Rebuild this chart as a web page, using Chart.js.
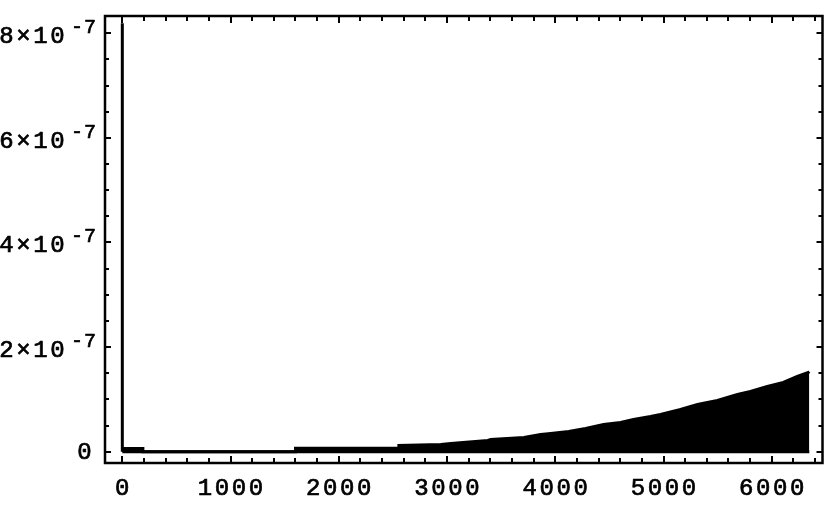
<!DOCTYPE html>
<html>
<head>
<meta charset="utf-8">
<script src="https://cdn.jsdelivr.net/npm/chart.js@4/dist/chart.umd.min.js"></script>
<style>
  html, body { margin: 0; padding: 0; background: #ffffff; }
  #wrap { width: 830px; height: 511px; }
</style>
</head>
<body>
<div id="wrap"><canvas id="c" width="830" height="511"></canvas></div>
<script>
// ---- data ----
// initial spike at n = 0
const spikeX = [0, 0];
const spikeY = [0, 8.19e-7];
// upper envelope of the rapidly oscillating series (black band)
const bandX = [0, 190, 190, 1600, 1600, 2550, 2555, 2943, 3035, 3376, 3404, 3710, 3865, 3958,
  4124, 4280, 4447, 4603, 4723, 4880, 4972, 5157, 5314, 5498, 5683, 5803, 5959, 6107, 6236, 6338, 6347];
const bandUpper = [0.061e-7, 0.061e-7, 0, 0, 0.067e-7, 0.067e-7, 0.119e-7, 0.138e-7, 0.157e-7, 0.214e-7,
  0.233e-7, 0.272e-7, 0.329e-7, 0.348e-7, 0.386e-7, 0.444e-7, 0.520e-7, 0.558e-7, 0.616e-7, 0.673e-7,
  0.711e-7, 0.807e-7, 0.902e-7, 0.979e-7, 1.094e-7, 1.151e-7, 1.247e-7, 1.323e-7, 1.438e-7, 1.515e-7, 1.53e-7];
// lower envelope (series minima sit at zero)
const lowerX = [0, 6347];
const lowerY = [0, 0];

// ---- axes ----
const xRange = [-160, 6469];
const yRange = [-0.216e-7, 8.33e-7];
const xMajorTicks = [0, 1000, 2000, 3000, 4000, 5000, 6000];
const xTickLabels = ['0', '1000', '2000', '3000', '4000', '5000', '6000'];
const xMinorStep = 200, xMinorMax = 6400;
const yMajorTicks = [0, 2e-7, 4e-7, 6e-7, 8e-7];
const yTickMantissa = ['0', '2×10', '4×10', '6×10', '8×10'];
const yTickExponent = ['', '-7', '-7', '-7', '-7'];
const yMinorStep = 0.5e-7, yMinorMax = 8e-7;

const toXY = (xs, ys) => xs.map((x, i) => ({ x: x, y: ys[i] }));

function drawSpaced(ctx, text, x, y, adv, align) {
  const n = text.length;
  let start;
  if (align === 'center') start = x - n * adv / 2;
  else if (align === 'right') start = x - n * adv;
  else start = x;
  ctx.textAlign = 'center';
  for (let i = 0; i < n; i++) {
    const cx = start + (i + 0.5) * adv;
    ctx.fillText(text[i], cx, y);
    ctx.strokeText(text[i], cx, y);
  }
}

const FONT_MAIN = '24px "Liberation Mono", "DejaVu Sans Mono", monospace';
const FONT_SUP = '20px "Liberation Mono", "DejaVu Sans Mono", monospace';

const framePlugin = {
  id: 'mmaFrame',
  afterDraw(chart) {
    const ctx = chart.ctx;
    const a = chart.chartArea;
    const xs = chart.scales.x, ys = chart.scales.y;
    ctx.save();
    ctx.strokeStyle = '#000';
    ctx.fillStyle = '#000';
    ctx.lineWidth = 2.5;
    ctx.strokeRect(a.left, a.top, a.right - a.left, a.bottom - a.top);
    // x ticks (inward, bottom and top)
    ctx.lineWidth = 2;
    ctx.beginPath();
    for (let v = 0; v <= xMinorMax + 1e-9; v += xMinorStep) {
      const px = Math.round(xs.getPixelForValue(v));
      const major = xMajorTicks.includes(v);
      const len = major ? 7 : 5;
      ctx.moveTo(px, a.bottom); ctx.lineTo(px, a.bottom - len);
      ctx.moveTo(px, a.top); ctx.lineTo(px, a.top + len);
    }
    // y ticks (inward, left and right)
    for (let k = 0; k * yMinorStep <= yMinorMax + 1e-12; k++) {
      const v = k * yMinorStep;
      const py = Math.round(ys.getPixelForValue(v));
      const major = (k % 4 === 0);
      const len = major ? 6 : 4;
      ctx.moveTo(a.left, py); ctx.lineTo(a.left + len, py);
      ctx.moveTo(a.right, py); ctx.lineTo(a.right - len, py);
    }
    ctx.stroke();

    // labels
    ctx.lineWidth = 0.7;
    ctx.lineJoin = 'round';
    ctx.font = FONT_MAIN;
    ctx.textBaseline = 'alphabetic';
    xMajorTicks.forEach((v, i) => {
      const px = xs.getPixelForValue(v);
      drawSpaced(ctx, xTickLabels[i], px, 495, 17, 'center');
    });
    yMajorTicks.forEach((v, i) => {
      const py = ys.getPixelForValue(v);
      ctx.font = FONT_MAIN;
      if (!yTickExponent[i]) {
        drawSpaced(ctx, yTickMantissa[i], 93, py + 7.5, 17, 'right');
      } else {
        drawSpaced(ctx, yTickMantissa[i], 66, py + 10, 17, 'right');
        ctx.font = FONT_SUP;
        drawSpaced(ctx, yTickExponent[i], 70.5, py, 13, 'left');
      }
    });
    ctx.restore();
  }
};

new Chart(document.getElementById('c'), {
  type: 'line',
  data: {
    datasets: [
      {
        data: toXY(spikeX, spikeY),
        borderColor: '#000', borderWidth: 3, pointRadius: 0, fill: false,
        borderCapStyle: 'butt'
      },
      {
        data: toXY(bandX, bandUpper),
        borderColor: '#000', backgroundColor: '#000', borderWidth: 3, pointRadius: 0,
        fill: 'origin', tension: 0, borderJoinStyle: 'miter'
      },
      {
        data: toXY(lowerX, lowerY),
        borderColor: '#000', borderWidth: 3, pointRadius: 0, fill: false
      }
    ]
  },
  options: {
    responsive: false,
    animation: false,
    devicePixelRatio: 1,
    parsing: true,
    layout: { padding: { left: 105, top: 16, right: 7.5, bottom: 48 } },
    plugins: { legend: { display: false }, tooltip: { enabled: false }, title: { display: false } },
    scales: {
      x: { type: 'linear', min: xRange[0], max: xRange[1], display: false },
      y: { type: 'linear', min: yRange[0], max: yRange[1], display: false }
    }
  },
  plugins: [framePlugin]
});
</script>
</body>
</html>
